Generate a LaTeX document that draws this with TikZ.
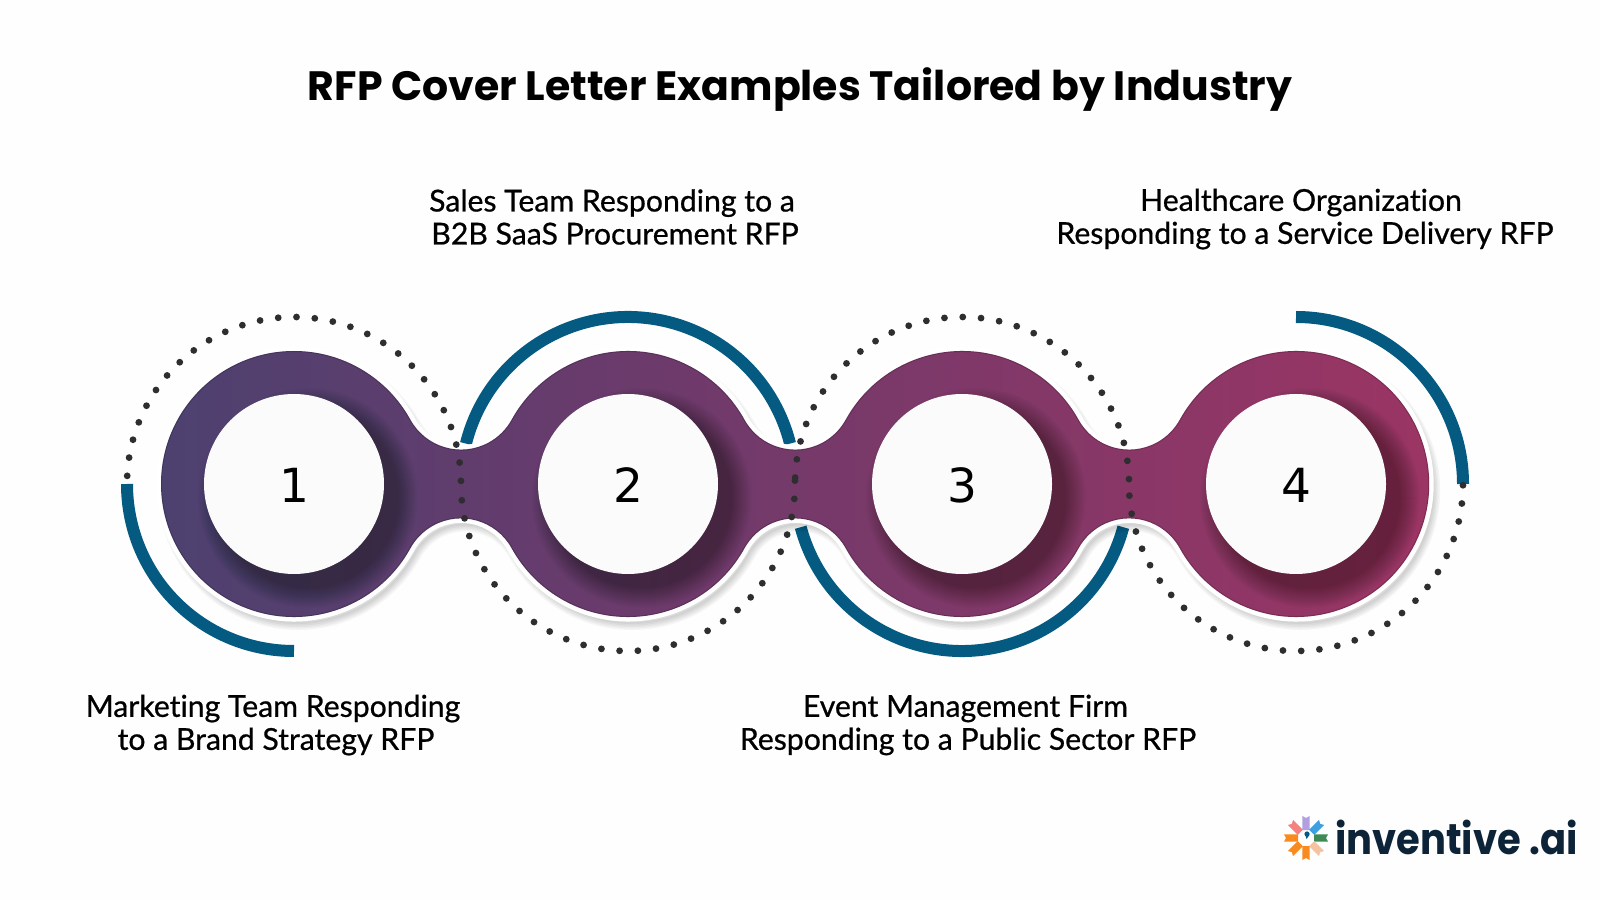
\documentclass[tikz,border=0pt]{standalone}
\usepackage{fontspec}
\setmainfont{Lato}[AutoFakeBold=0.7,Ligatures=NoCommon]
\newfontfamily\headfont{Poppins}
\newfontfamily\numfont{DejaVu Sans}
\usetikzlibrary{calc}
\definecolor{tealband}{HTML}{045A80}
\definecolor{spotgrey}{HTML}{2E2E30}
\definecolor{inkblue}{HTML}{0D2438}
\definecolor{plumA}{HTML}{4D4170}
\definecolor{plumB}{HTML}{693B6C}
\definecolor{plumC}{HTML}{823868}
\definecolor{plumD}{HTML}{9C3564}
\pgfdeclarehorizontalshading{bandshade}{100bp}{color(0bp)=(plumA); color(25bp)=(plumA); color(42bp)=(plumB); color(58bp)=(plumC); color(75bp)=(plumD); color(100bp)=(plumD)}
\newcommand{\bodypath}{(161,416) arc[start angle=180,end angle=28.9,radius=133]
  arc[start angle=208.9,end angle=331.1,radius=57.8] arc[start angle=151.1,end angle=28.9,radius=133]
  arc[start angle=208.9,end angle=331.1,radius=57.8] arc[start angle=151.1,end angle=28.9,radius=133]
  arc[start angle=208.9,end angle=331.1,radius=57.8] arc[start angle=151.1,end angle=-151.1,radius=133]
  arc[start angle=28.9,end angle=151.1,radius=57.8] arc[start angle=-28.9,end angle=-151.1,radius=133]
  arc[start angle=28.9,end angle=151.1,radius=57.8] arc[start angle=-28.9,end angle=-151.1,radius=133]
  arc[start angle=28.9,end angle=151.1,radius=57.8] arc[start angle=-28.9,end angle=-180,radius=133] -- cycle}
\tikzset{
  band/.style={draw=tealband,line width=12pt},
  spot/.style={fill=spotgrey},
  caption/.style={align=center,inner sep=0pt,font=\fontsize{30.2}{33}\selectfont\bfseries,text=black},
  numdisc/.style={circle,fill=white!97!gray,minimum size=180pt,inner sep=0pt,text=black,text height=37pt,font=\numfont\fontsize{47}{47}\selectfont}
}
\begin{document}
\begin{tikzpicture}[x=1pt,y=1pt]
\useasboundingbox (0,0) rectangle (1600,900);
\fill[white!99.5!gray] (0,0) rectangle (1600,900);
\node[inner sep=0pt,font=\headfont\fontsize{41}{41}\selectfont\bfseries] (title) at (800,810) {RFP Cover Letter Examples Tailored by Industry};
\node[caption] (capB) at (615,683) {Sales Team Responding to a\hspace*{6pt}\\B2B SaaS Procurement RFP};
\node[caption] (capD) at (1305,681) {Healthcare Organization\hspace*{8pt}\\Responding to a Service Delivery RFP};
\node[caption] (capA) at (276,175) {Marketing Team Responding\hspace*{6pt}\\to a Brand Strategy RFP};
\node[caption] (capC) at (968,175) {Event Management Firm\hspace*{5pt}\\Responding to a Public Sector RFP};
% arcs behind the band
\draw[band] (127,416) arc[start angle=180,end angle=270,radius=167];
\draw[band] (628,416) ++(166:167) arc[start angle=166,end angle=14,radius=167];
\draw[band] (962,416) ++(195:167) arc[start angle=195,end angle=345,radius=167];
\draw[band] (1296,583) arc[start angle=90,end angle=0,radius=167];
% soft shadow and white rim
\foreach \w in {2,5,8,11,14}
  \draw[black,opacity=.035,line width=\w pt,shift={(4,-6)}] \bodypath;
\draw[white,line width=9pt] \bodypath;
\shade[shading=bandshade] \bodypath;
\begin{scope}
\clip \bodypath;
\draw[black,opacity=.18,line width=2pt] \bodypath;
\foreach \cx in {294,628,962,1296}
  \foreach \r in {90,91,...,110}
    \fill[black,opacity=.015] (\cx+14,416-14) circle (\r);
\end{scope}
\node[numdisc] (numA) at (294,416) {1};
\node[numdisc] (numB) at (628,416) {2};
\node[numdisc] (numC) at (962,416) {3};
\node[numdisc] (numD) at (1296,416) {4};
% dotted rings
\foreach \k in {0,...,28}{
  \fill[spot] (294,416) ++({177.2-6.29*\k}:167) circle (3.4);
  \fill[spot] (628,416) ++({185.6+6.27*\k}:167) circle (3.4);
  \fill[spot] (962,416) ++({177.8-6.29*\k}:167) circle (3.4);
  \fill[spot] (1296,416) ++({184+6.27*\k}:167) circle (3.4);
}
% logo
\begin{scope}[shift={(1306,62)}]
\foreach \a/\c in {90/B19FE0,45/3B9FE0,0/3E8A55,-45/F6C3A0,-90/F98B1E,-135/F98B1E,180/F98B1E,135/F58080}{
  \definecolor{petal}{HTML}{\c}
  \fill[petal,rotate=\a] (8,-3.6) -- (22,-3.6) -- (20,0) -- (22,3.6) -- (8,3.6) -- cycle;
}
\fill[tealband] (1,4) circle (2.6);
\fill[tealband] (-1,4) -- (3.4,3) -- (0.5,-1) -- cycle;
\end{scope}
\node[anchor=base west,inner sep=0pt,text=inkblue,xscale=.895,font=\headfont\fontsize{43}{43}\selectfont\bfseries] (brand) at (1335,45.7) {inventive .ai};
\end{tikzpicture}
\end{document}
